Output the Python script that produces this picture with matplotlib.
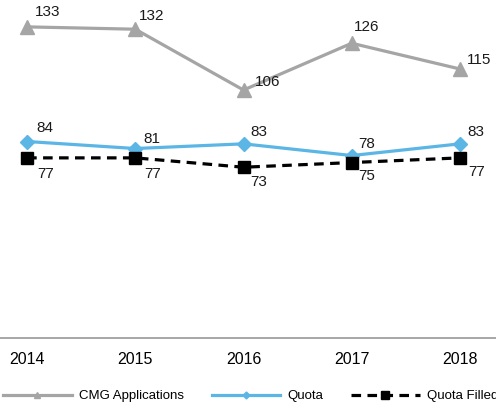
import matplotlib
matplotlib.use("Agg")
import matplotlib.pyplot as plt
from matplotlib.lines import Line2D

plt.rcParams['font.family'] = ['Liberation Sans', 'DejaVu Sans']

years = ["2014", "2015", "2016", "2017", "2018"]
applications = [133, 132, 106, 126, 115]
quota = [84, 81, 83, 78, 83]
quota_filled = [77, 77, 73, 75, 77]

# label offsets in pixels (dx right, dy up), styling only
app_off = [(8, 15), (4, 13), (11, 8), (2, 16), (7, 9)]
quota_off = [(9, 14), (8, 10), (7, 12), (7, 12), (7, 12)]
filled_off = [(10, -16), (9, -16), (7, -15), (7, -13), (8, -14)]

W, H = 496, 411
fig = plt.figure(figsize=(W / 100, H / 100), dpi=100)
left_px, right_px = -27, 514
bottom_px, top_px = 338, 10.5
ax = fig.add_axes([left_px / W, (H - bottom_px) / H,
                   (right_px - left_px) / W, (bottom_px - top_px) / H])
x = list(range(len(years)))

grey = "#A5A5A5"
blue = "#5BB6E6"

ax.plot(x, applications, color=grey, lw=2.3, marker="^", ms=10, zorder=3)
ax.plot(x, quota, color=blue, lw=2.3, marker="D", ms=7.5, zorder=3)
ax.plot(x, quota_filled, color="black", lw=2.3, ls=(0, (3, 2)), marker="s",
        ms=8.5, zorder=4)

ax.set_xlim(-0.5, len(years) - 0.5)
ax.set_ylim(0, 140)

px2pt = 0.72
for series, offs in ((applications, app_off), (quota, quota_off),
                     (quota_filled, filled_off)):
    for xi, v, (dx, dy) in zip(x, series, offs):
        ax.annotate(str(v), (xi, v), xytext=(dx * px2pt, dy * px2pt),
                    textcoords="offset points", fontsize=11, ha="left",
                    va="center", color="#1a1a1a", zorder=5)

for s in ["top", "right", "left"]:
    ax.spines[s].set_visible(False)
ax.spines["bottom"].set_color("#A0A0A0")
ax.spines["bottom"].set_linewidth(1.3)
ax.set_yticks([])
ax.set_xticks(x)
ax.set_xticklabels(years, fontsize=11.5)
ax.tick_params(axis="x", length=0, pad=10)

handles = [
    Line2D([], [], color=grey, lw=2.3, marker="^", ms=5),
    Line2D([], [], color=blue, lw=2.3, marker="D", ms=3.5),
    Line2D([], [], color="black", lw=2.3, ls=(0, (3, 2)), marker="s", ms=6),
]
labels = ["CMG Applications", "Quota", "Quota Filled"]
fig.legend(handles, labels, loc="center left", bbox_to_anchor=(3 / W, 15 / H),
           ncol=3, frameon=False, fontsize=9.5, handlelength=5.2,
           handletextpad=0.55, columnspacing=2.1, borderpad=0, borderaxespad=0)

fig.savefig("out.png", dpi=100)
